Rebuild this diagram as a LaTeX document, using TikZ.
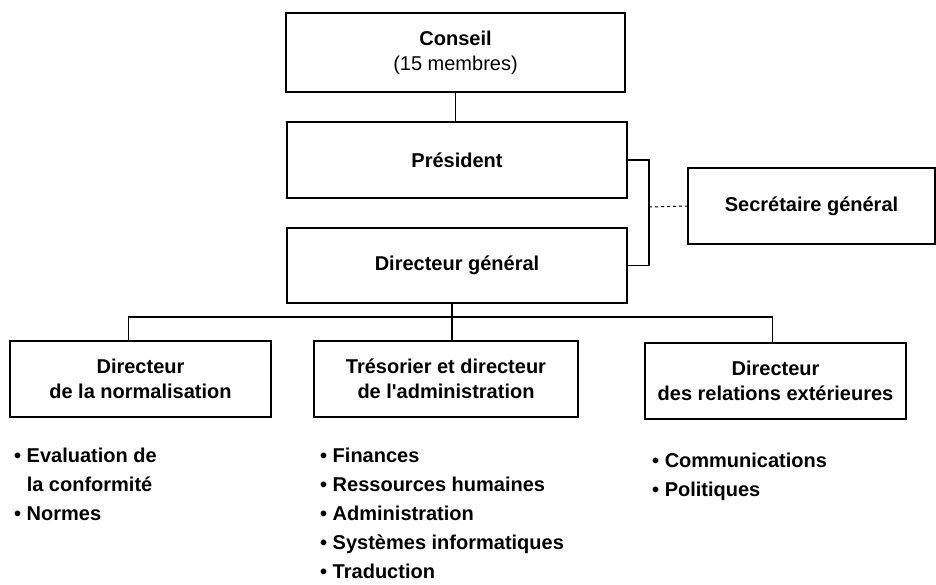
\documentclass[tikz,border=0pt]{standalone}
\usepackage{fontspec}
\setmainfont{Liberation Sans}
\usepackage{xcolor}

\tikzset{
  box/.style={draw, line width=1.4pt, align=center, inner sep=0pt,
    font=\fontsize{20}{25}\selectfont\bfseries},
  items/.style={anchor=north west, align=left, inner sep=0pt,
    font=\fontsize{20}{29}\selectfont\bfseries},
  link/.style={line width=1.4pt}
}

\begin{document}
\begin{tikzpicture}[x=1pt, y=-1pt]
    \useasboundingbox (0,0) rectangle (936,585);

    % Define the boxes
    \node [box, minimum width=339, minimum height=79] (conseil) at (455.5,52.5)
      {Conseil\\{\mdseries (15 membres)}};
    \node [box, minimum width=340, minimum height=76] (president) at (457,160) {Président};
    \node [box, minimum width=340, minimum height=75] (dg) at (457,265.5) {Directeur général};
    \node [box, minimum width=247, minimum height=76] (secr) at (811.5,206) {Secrétaire général};

    \node [box, minimum width=261, minimum height=76] (normal) at (140.5,379)
      {Directeur\\de la normalisation};
    \node [box, minimum width=264, minimum height=76] (tresor) at (446,379)
      {Trésorier et directeur\\de l\textquotesingle administration};
    \node [box, minimum width=261, minimum height=76] (relext) at (775.5,381)
      {Directeur\\des relations extérieures};

    % Helper points
    \coordinate (brk) at (649,207);
    \coordinate (bus) at (452,317);

    % Draw the links
    \draw [link] (conseil.south) -- (conseil.south |- president.north);
    \draw [link] (president.east) -| (brk) |- (dg.east);
    \draw [link, dashed, line width=1pt] (brk) -- (secr.west);
    \draw [link] (bus |- dg.south) -- (bus |- tresor.north);
    \draw [link] ([xshift=-12]normal.north) |- (bus) -| ([xshift=-3]relext.north);

    % Lists under the boxes
    \node [items] (normlist) at (14,448)
      {• Evaluation de\\\hphantom{• }la conformité\\• Normes};
    \node [items] (treslist) at (320,448)
      {• Finances\\• Ressources humaines\\• Administration\\• Systèmes informatiques\\• Traduction};
    \node [items] (rellist) at (652,453)
      {• Communications\\• Politiques};

\end{tikzpicture}
\end{document}
